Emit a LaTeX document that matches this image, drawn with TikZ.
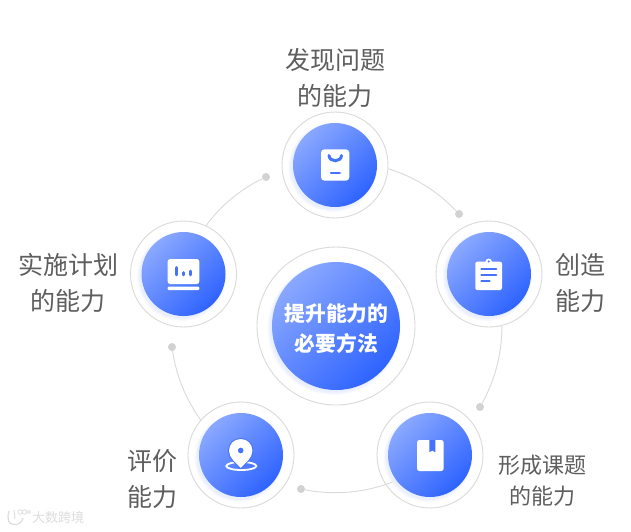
\documentclass[tikz,border=0pt]{standalone}
\usepackage{fontspec}
\newfontfamily\cjk{Noto Sans CJK SC}
\usetikzlibrary{calc}
\definecolor{lbl}{HTML}{5E5E5E}
\definecolor{gray1}{HTML}{DADADA}
\definecolor{dotc}{HTML}{D2D2D2}
\definecolor{blueA}{HTML}{8AA8FF}
\definecolor{blueM}{HTML}{5580FF}
\definecolor{blueB}{HTML}{2E63FF}
\definecolor{iconb}{HTML}{4573FF}
\definecolor{wm}{HTML}{DDDDDD}
\tikzset{
  ringc/.style={circle,draw=gray1,line width=0.9pt,fill=white,inner sep=0pt,minimum size=#1},
  discc/.style={circle,inner sep=0pt,minimum size=#1,top color=blueA,middle color=blueM,bottom color=blueB,shading angle=45},
  lab/.style={text=lbl,align=center,inner sep=0pt,font=\cjk\fontsize{25}{36.5}\selectfont},
  lab2/.style={text=lbl,align=center,inner sep=0pt,font=\cjk\fontsize{22}{31}\selectfont},
  conn/.style={draw=gray1,line width=0.9pt,looseness=0.87},
  dotn/.style={circle,fill=dotc,inner sep=0pt,minimum size=8pt},
  ico/.style={fill=white,draw=none},
  icob/.style={draw=iconb,line cap=round},
}
\newcommand{\unitc}[5]{% name, x, y, ring size, disc size
  \node[ringc=#4] (#1) at (#2,#3) {};
  \foreach \k in {1,...,5}{
    \fill[blueB,opacity=0.018] ({#2-2},{#3+2.5}) circle[radius={#5/2+\k*0.7-1}];
  }
  \node[discc=#5] (#1disc) at (#2,#3) {};
}
\begin{document}
\begin{tikzpicture}[x=1pt,y=-1pt]
\useasboundingbox (0,0) rectangle (631,531);
\fill[white] (0,0) rectangle (631,531);
% connector free ends
\node[dotn] (d1) at (266,177) {};
\node[dotn] (d2) at (459,214) {};
\node[dotn] (d3) at (480,407) {};
\node[dotn] (d4) at (301,489) {};
\node[dotn] (d5) at (172,347) {};
\coordinate (e4) at (392.7,482);
% units
\unitc{ctr}{336}{326}{158pt}{128pt}
\unitc{top}{335}{165}{106pt}{84pt}
\unitc{left}{183.5}{274}{106pt}{84pt}
\unitc{right}{489}{274}{106pt}{84pt}
\unitc{bl}{241}{455}{106pt}{84pt}
\unitc{br}{430}{455}{106pt}{84pt}
% connectors
\draw[conn] (d1) to[bend right=13.8] (left.65);
\draw[conn] (d2) to[bend right=14.7] (top.-4);
\draw[conn] (d3) to[bend right=14.5] (right.-76);
\draw[conn] (d4) to[bend right=15.9] (e4);
\draw[conn] (d5) to[bend right=13.5] (bl.139);
% centre text
\node[text=white,align=center,inner sep=0pt,font=\cjk\bfseries\fontsize{20.8}{30}\selectfont] (ctrtxt) at (336.5,328.5) {提升能力的\\必要方法};
% labels
\node[lab] (t1) at (335,78) {发现问题\\的能力};
\node[lab] (t2) at (68,283) {实施计划\\的能力};
\node[lab] (t3) at (580,283) {创造\\能力};
\node[lab] (t4) at (152,479) {评价\\能力};
\node[lab2] (t5) at (542,480.5) {形成课题\\的能力};
% top icon
\fill[ico,rounded corners=3.5pt] (321,149.3) rectangle (349.3,180.7);
\draw[icob,line width=3pt] (329,155.5) .. controls (329.5,162.5) and (341,162.5) .. (341.5,155.5);
\draw[icob,line width=2.5pt] (331,172.8) -- (339.8,172.8);
% left icon
\fill[ico,rounded corners=2.5pt] (167.7,259) rectangle (199.3,284);
\fill[ico,rounded corners=1pt] (167.7,286.7) rectangle (199.3,290);
\draw[icob,line width=2.8pt] (176.7,267.5) -- (176.7,275);
\draw[icob,line width=2.8pt] (183.5,272.5) -- (183.5,275);
\draw[icob,line width=2.8pt] (190.7,271) -- (190.7,275);
% right icon
\fill[ico,rounded corners=2pt] (475.3,261.7) rectangle (502,290);
\fill[ico] (488.7,262) circle[radius=3.4];
\fill[iconb] (488.7,261.5) circle[radius=1.1];
\draw[icob,line width=2.2pt] (481.5,269.3) -- (496.2,269.3);
\draw[icob,line width=2.2pt] (481.5,275.3) -- (496.2,275.3);
\draw[icob,line width=2.2pt] (481.5,281.3) -- (489.5,281.3);
% bottom-left icon
\draw[white,line width=1.8pt] (241.3,466) ellipse[x radius=15,y radius=4];
\fill[ico,preaction={draw=iconb,line width=2pt}] (240.7,467.8) .. controls (236,463) and (229,458) .. (229,450.7) .. controls (229,444) and (234,439) .. (240.7,439) .. controls (247.4,439) and (252.4,444) .. (252.4,450.7) .. controls (252.4,458) and (245.4,463) .. (240.7,467.8) -- cycle;
\fill[iconb] (240.7,450.5) circle[radius=2.8];
% bottom-right icon
\fill[ico,rounded corners=2.5pt] (417,440) rectangle (443.7,471);
\fill[iconb] (429.3,440) -- (435.3,440) -- (435.3,452.3) -- (432.3,450.5) -- (429.3,452.3) -- cycle;
% watermark
\node[text=wm,inner sep=0pt,font=\cjk\fontsize{13}{14}\selectfont] (wmt) at (58,518) {大数跨境};
\draw[wm,line width=1.2pt] (9,511) .. controls (7,517) and (8,524) .. (12,524) .. controls (17,526) and (22,523) .. (23,518);
\draw[wm,line width=0.9pt] (14,510) -- (15,519);
\draw[wm,line width=0.7pt] (20,512) circle[radius=2.3] (24.5,512) circle[radius=2.3] (29,512) circle[radius=1.6];
\end{tikzpicture}
\end{document}
